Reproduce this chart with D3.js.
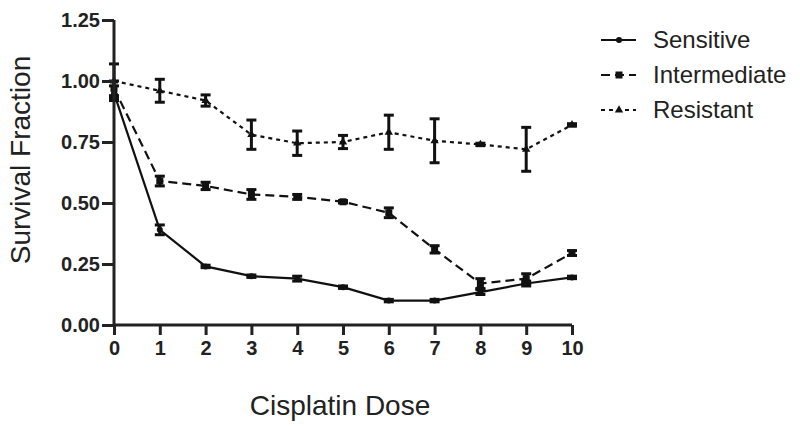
<!DOCTYPE html>
<html lang="en">
<head>
<meta charset="UTF-8">
<title>Survival Fraction vs Cisplatin Dose</title>
<script src="https://d3js.org/d3.v7.min.js"></script>
<style>
  body { margin: 0; background: #fff; }
  svg text { font-family: "Liberation Sans", Arial, sans-serif; fill: #222; }
  .tick text { font-weight: bold; font-size: 20px; }
</style>
</head>
<body>
<div id="chart"></div>
<script>
// chart data
const doses = [0, 1, 2, 3, 4, 5, 6, 7, 8, 9, 10];
const yTicks = [0, 0.25, 0.5, 0.75, 1.0, 1.25];
const seriesNames = ["Sensitive", "Intermediate", "Resistant"];

const sensitive    = [0.95, 0.39, 0.24, 0.20, 0.19, 0.155, 0.10, 0.10, 0.135, 0.17, 0.195];
const sensitiveErr = [0.03, 0.02, 0.005, 0.005, 0.01, 0.005, 0.005, 0.005, 0.01, 0.01, 0.005];

const intermediate    = [0.97, 0.59, 0.57, 0.535, 0.525, 0.505, 0.46, 0.31, 0.17, 0.19, 0.295];
const intermediateErr = [0.03, 0.02, 0.015, 0.02, 0.01, 0.005, 0.02, 0.015, 0.02, 0.02, 0.01];

const resistant    = [1.00, 0.96, 0.92, 0.78, 0.745, 0.75, 0.79, 0.755, 0.74, 0.72, 0.82];
const resistantErr = [0.07, 0.047, 0.023, 0.06, 0.05, 0.027, 0.07, 0.09, 0.005, 0.09, 0.005];

const W = 800, H = 428;
const x = d3.scaleLinear().domain([0, 10]).range([114, 572]);
const y = d3.scaleLinear().domain([0, 1.25]).range([325, 20]);

const svg = d3.select("#chart").append("svg")
    .attr("width", W).attr("height", H);

const series = [
    {name: seriesNames[0], vals: sensitive, err: sensitiveErr, dash: null, marker: "circle"},
    {name: seriesNames[1], vals: intermediate, err: intermediateErr, dash: "9,5", marker: "square"},
    {name: seriesNames[2], vals: resistant, err: resistantErr, dash: "4,4", marker: "triangle"}
];

const line = d3.line()
    .x((d, i) => x(doses[i]))
    .y(d => y(d));

function drawMarker(g, type, cx, cy) {
    if (type === "circle") {
        g.append("circle").attr("cx", cx).attr("cy", cy).attr("r", 3).attr("fill", "#111");
    } else if (type === "square") {
        g.append("rect").attr("x", cx - 3.5).attr("y", cy - 3.5)
            .attr("width", 7).attr("height", 7).attr("fill", "#111");
    } else {
        g.append("path").attr("d", d3.symbol(d3.symbolTriangle, 30)())
            .attr("transform", "translate(" + cx + "," + cy + ")").attr("fill", "#111");
    }
}

// series lines, error bars, markers
series.forEach(s => {
    const g = svg.append("g");
    g.append("path")
        .datum(s.vals)
        .attr("d", line)
        .attr("fill", "none")
        .attr("stroke", "#111")
        .attr("stroke-width", 2.2)
        .attr("stroke-dasharray", s.dash);

    s.vals.forEach((v, i) => {
        const cx = x(doses[i]);
        const top = y(v + s.err[i]), bot = y(v - s.err[i]);
        g.append("line").attr("x1", cx).attr("x2", cx).attr("y1", top).attr("y2", bot)
            .attr("stroke", "#111").attr("stroke-width", 3);
        [top, bot].forEach(yy => {
            g.append("line").attr("x1", cx - 5).attr("x2", cx + 5).attr("y1", yy).attr("y2", yy)
                .attr("stroke", "#111").attr("stroke-width", 3);
        });
        drawMarker(g, s.marker, cx, y(v));
    });
});

// axes
const xAxis = svg.append("g")
    .attr("transform", "translate(0," + y(0) + ")")
    .call(d3.axisBottom(x).tickValues(doses).tickSize(10).tickPadding(6).tickFormat(d3.format("d")));
const yAxis = svg.append("g")
    .attr("transform", "translate(" + x(0) + ",0)")
    .call(d3.axisLeft(y).tickValues(yTicks).tickSize(12).tickPadding(2).tickFormat(d3.format(".2f")));

[xAxis, yAxis].forEach(a => {
    a.select(".domain").attr("stroke", "#222").attr("stroke-width", 3);
    a.selectAll(".tick line").attr("stroke", "#222").attr("stroke-width", 3);
    a.selectAll(".tick text").attr("fill", "#222");
});
yAxis.select(".domain").attr("d", "M0," + y(1.25) + "V" + y(0));
xAxis.select(".domain").attr("d", "M" + x(0) + ",0H" + x(10));

// axis titles
svg.append("text")
    .attr("x", 340).attr("y", 415)
    .attr("text-anchor", "middle")
    .style("font-size", "28px")
    .text("Cisplatin Dose");
svg.append("text")
    .attr("transform", "translate(30,160) rotate(-90)")
    .attr("text-anchor", "middle")
    .style("font-size", "28px")
    .text("Survival Fraction");

// legend
const legend = svg.append("g");
series.forEach((s, i) => {
    const ly = 40 + i * 35;
    legend.append("line")
        .attr("x1", 601).attr("x2", 636).attr("y1", ly).attr("y2", ly)
        .attr("stroke", "#111").attr("stroke-width", 2.2)
        .attr("stroke-dasharray", s.dash);
    drawMarker(legend, s.marker, 619, ly);
    legend.append("text")
        .attr("x", 653).attr("y", ly + 8)
        .style("font-size", "24px")
        .text(s.name);
});
</script>
</body>
</html>
